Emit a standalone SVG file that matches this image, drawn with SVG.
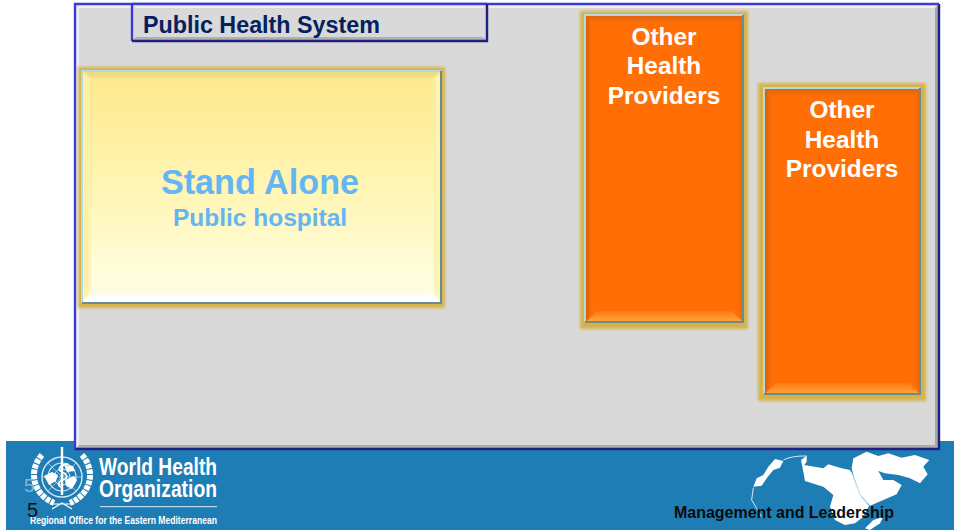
<svg xmlns="http://www.w3.org/2000/svg" width="954" height="530" viewBox="0 0 954 530">
<style>
text{font-family:"Liberation Sans",Arial,sans-serif;font-weight:bold}
.or{fill:#fff;font-size:24.4px;text-anchor:middle}
.sb{fill:#63b6f3;text-anchor:middle}
.wt{fill:#fff;font-family:"Liberation Sans Narrow","Liberation Sans",sans-serif}
.glow{fill:#d6b349;filter:url(#soft)}
.frame{fill:none;stroke:#b5dbe2;stroke-width:2}
.frameb{fill:none;stroke:#6c8a96;stroke-width:2}
.wr{fill:none;stroke:#fff;stroke-linecap:butt}
.bev{filter:url(#bl)}
</style>
<defs>
<filter id="soft" x="-5%" y="-5%" width="110%" height="110%"><feGaussianBlur stdDeviation="1.8"/></filter>
<filter id="bl" x="-10%" y="-10%" width="120%" height="120%"><feGaussianBlur stdDeviation="1"/></filter>
<linearGradient id="yel" x1="0" y1="0" x2="0" y2="1"><stop offset="0" stop-color="#ffe88c"/><stop offset=".55" stop-color="#fff6b8"/><stop offset="1" stop-color="#ffffe8"/></linearGradient>
<linearGradient id="orb" x1="0" y1="0" x2="0" y2="1"><stop offset="0" stop-color="#ff7a10"/><stop offset="1" stop-color="#ffa63c"/></linearGradient>
<linearGradient id="ort" x1="0" y1="0" x2="0" y2="1"><stop offset="0" stop-color="#df6412"/><stop offset="1" stop-color="#ff6f06"/></linearGradient>
<linearGradient id="orl" x1="0" y1="0" x2="1" y2="0"><stop offset="0" stop-color="#d85f08"/><stop offset="1" stop-color="#ff6f06"/></linearGradient>
<linearGradient id="orr" x1="1" y1="0" x2="0" y2="0"><stop offset="0" stop-color="#e86608"/><stop offset="1" stop-color="#ff6f06"/></linearGradient>
<linearGradient id="yt" x1="0" y1="0" x2="0" y2="1"><stop offset="0" stop-color="#e6d184"/><stop offset="1" stop-color="#ffe88c"/></linearGradient>
<linearGradient id="yb" x1="0" y1="0" x2="0" y2="1"><stop offset="0" stop-color="#fffbd8"/><stop offset=".7" stop-color="#fff"/></linearGradient>
</defs>
<rect width="954" height="530" fill="#fff"/>
<g id="footer">
<rect x="6" y="441" width="948" height="89" fill="#1f7db6"/>
<g id="emblem">
<circle cx="62" cy="477" r="20" fill="none" stroke="#d6e8f3" stroke-width="1.4"/>
<circle cx="62" cy="477" r="14" fill="none" stroke="#d6e8f3" stroke-width="1.2"/>
<circle cx="62" cy="477" r="8" fill="none" stroke="#d6e8f3" stroke-width="1"/>
<path d="M42 477H82M48 463L76 491M76 463L48 491" stroke="#bcd9ea" stroke-width=".7"/>
<path d="M44 476l8-4 6 3-2 6-7 4zM65 480l9-4 3 4-5 9-6-3zM64 465l9 1 2 5-8 1z" fill="#fff"/>
<path d="M62 447V495" stroke="#fff" stroke-width="2.4"/>
<path d="M68 464c-9 1-11 6-6 8s7 6 1 8-5 6-2 7" fill="none" stroke="#fff" stroke-width="1.8"/>
<path class="wr" stroke-width="6" stroke-dasharray="4.5 1" d="M42 455C29 469 31 493 54 503"/>
<path class="wr" stroke-width="6" stroke-dasharray="4.5 1" d="M82 455C95 469 93 493 70 503"/>
<path fill="none" stroke="#fff" stroke-width="1.2" d="M50 504L74 504M52 509L62 503 72 509"/>
</g>
<text x="24" y="492" font-size="19" fill="#7fb6d8" style="font-weight:normal">5</text>
<text class="wt" x="99" y="475" font-size="23" textLength="118" lengthAdjust="spacingAndGlyphs">World Health</text>
<text class="wt" x="99" y="497" font-size="23" textLength="118" lengthAdjust="spacingAndGlyphs">Organization</text>
<rect x="100" y="506" width="117" height="1.2" fill="#b9d8ea"/>
<text class="wt" x="30" y="524" font-size="10" textLength="187" lengthAdjust="spacingAndGlyphs">Regional Office for the Eastern Mediterranean</text>
<g id="map" transform="translate(745 445) scale(.3333)">
<path fill="#fff" d="M25 125L35 100 55 90 70 65 90 42 115 48 105 68 85 75 65 100 50 122Z"/>
<path fill="#fff" d="M168 45L185 32 185 50 178 60 235 70 250 58 290 70 315 75 325 95 345 150 372 183 355 215 330 235 300 240 270 225 255 185 265 150 235 125 180 108 175 80Z"/>
<path fill="#fff" d="M320 70L325 40 365 20 400 33 430 25 470 38 510 30 553 45 535 65 548 88 525 115 495 100 460 90 420 85 400 78 415 105 445 105 470 120 455 148 375 182 345 148 325 90Z"/>
<path fill="#fff" d="M415 215L405 235 375 255 360 250 385 225Z"/>
<path fill="none" stroke="#d7e8f2" stroke-width="3" d="M25 128L20 165 50 215M115 45Q140 32 185 33M318 80L345 150 372 183"/>
</g>
<text x="27" y="517" font-size="20" fill="#111" style="font-weight:normal">5</text>
<text x="674" y="518" font-size="16" textLength="220" lengthAdjust="spacingAndGlyphs" fill="#0a0a0a">Management and Leadership</text>
</g>
<g id="panel">
<rect x="75" y="4" width="864" height="445" fill="#d9d9d9"/>
<path d="M76 5H938L934 8H79Z" fill="#efefef"/>
<path d="M76 448H938L935 445H79Z" fill="#adadad"/>
<path d="M938 5V448L935 445V8Z" fill="#a6a6a6"/>
<path d="M76 5V448L79 445V8Z" fill="#ececec"/>
<path d="M75 449H939V4" fill="none" stroke="#20207f" stroke-width="2.4"/>
<path d="M75 449V4H939" fill="none" stroke="#3c3cd2" stroke-width="2.4"/>
</g>
<g id="title">
<rect x="132" y="4" width="355" height="37" fill="#d9d9d9"/>
<path d="M133 5H486L483 8H136Z" fill="#efefef"/>
<path d="M133 40H486L483 37H136Z" fill="#b0b0b0"/>
<path d="M132 41V4M132 4H487" fill="none" stroke="#3c3cd2" stroke-width="2.4"/>
<path d="M132 41H487V4" fill="none" stroke="#20207f" stroke-width="2.4"/>
<text x="143" y="33" font-size="23.3" fill="#04215f">Public Health System</text>
</g>
<g id="standalone">
<rect x="78" y="67" width="367" height="241" class="glow"/>
<rect x="83" y="72" width="358" height="230" fill="url(#yel)"/>
<path class="bev" d="M83 72H441L433 79H91Z" fill="url(#yt)"/>
<path class="bev" d="M83 72L90 79V292L83 302Z" fill="#fff0a8"/>
<path class="bev" d="M441 72L434 79V292L441 302Z" fill="#fff3b0"/>
<path d="M83 302L96 288H428L441 302Z" fill="url(#yb)"/>
<path class="frame" d="M82 303V71H441"/>
<path class="frameb" d="M82 303H441V71"/>
<text class="sb" x="260" y="194" font-size="34.2">Stand Alone</text>
<text class="sb" x="260" y="226" font-size="24.5">Public hospital</text>
</g>
<g id="provider1">
<rect x="580" y="11" width="168" height="318" class="glow"/>
<rect x="586" y="16" width="157" height="306" fill="#ff6f06"/>
<path d="M586 16H743L737 23H592Z" fill="url(#ort)"/>
<path d="M586 16L592 23V312L586 322Z" fill="url(#orl)"/>
<path d="M743 16L737 23V312L743 322Z" fill="url(#orr)"/>
<path d="M586 322L597 311H732L743 322Z" fill="url(#orb)"/>
<path class="frame" d="M585 322V15H743"/>
<path class="frameb" d="M585 322H743V15"/>
<text class="or" x="664" y="45">Other</text>
<text class="or" x="664" y="74">Health</text>
<text class="or" x="664" y="104">Providers</text>
</g>
<g id="provider2">
<rect x="758" y="83" width="168" height="318" class="glow"/>
<rect x="765" y="89" width="155" height="305" fill="#ff6f06"/>
<path d="M765 89H920L914 96H771Z" fill="url(#ort)"/>
<path d="M765 89L771 96V384L765 394Z" fill="url(#orl)"/>
<path d="M920 89L914 96V384L920 394Z" fill="url(#orr)"/>
<path d="M765 394L776 383H909L920 394Z" fill="url(#orb)"/>
<path class="frame" d="M764 394V88H920"/>
<path class="frameb" d="M764 394H920V88"/>
<text class="or" x="842" y="118">Other</text>
<text class="or" x="842" y="148">Health</text>
<text class="or" x="842" y="177">Providers</text>
</g>
</svg>
